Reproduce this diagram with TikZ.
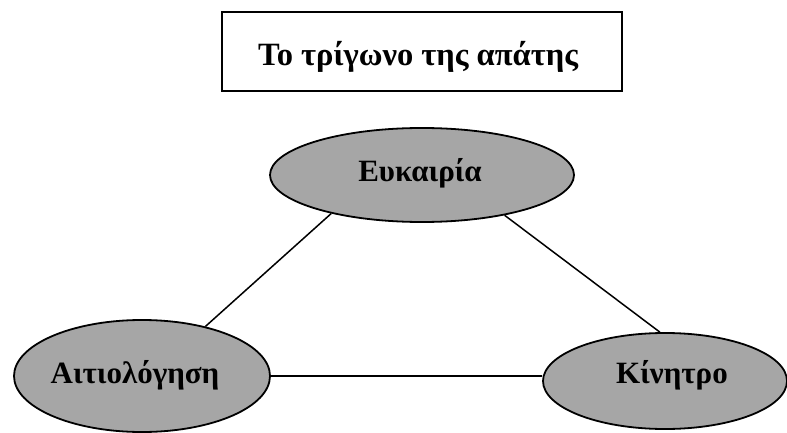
\documentclass[tikz,border=0pt]{standalone}
\usepackage{fontspec}
\setmainfont{Liberation Serif}
\usetikzlibrary{shapes.geometric}
\definecolor{ovalgray}{HTML}{A6A6A6}
\tikzset{
  titlebox/.style={draw=black, line width=2.8pt, minimum width=400pt, minimum height=79pt, inner sep=0pt},
  oval/.style={ellipse, draw=black, line width=1.8pt, fill=ovalgray, inner sep=0pt},
  link/.style={draw=black, line width=1.5pt},
  lbl/.style={font=\bfseries\fontsize{31}{36}\selectfont, anchor=base},
  tlbl/.style={font=\bfseries\fontsize{32.5}{38}\selectfont, anchor=base}
}
\begin{document}
\begin{tikzpicture}[x=1pt,y=-1pt]
\useasboundingbox (0,0) rectangle (787,433);
\node[titlebox] (title) at (422,51.5) {};
\node[tlbl] (titlet) at (418,66) {Το τρίγωνο της απάτης};
\node[oval, minimum width=304pt, minimum height=94pt] (opp) at (422,175) {};
\node[lbl] (oppt) at (420,182) {Ευκαιρία};
\node[oval, minimum width=256pt, minimum height=112pt] (rat) at (142,376) {};
\node[lbl] (ratt) at (135,383) {Αιτιολόγηση};
\node[oval, minimum width=244pt, minimum height=96pt] (mot) at (665,381) {};
\node[lbl] (mott) at (672,383) {Κίνητρο};
\draw[link] (opp.203) -- (rat.38);
\draw[link] (opp.334) -- (mot.96);
\draw[link] (rat.east) -- (mot.west |- rat.east);
\end{tikzpicture}
\end{document}
